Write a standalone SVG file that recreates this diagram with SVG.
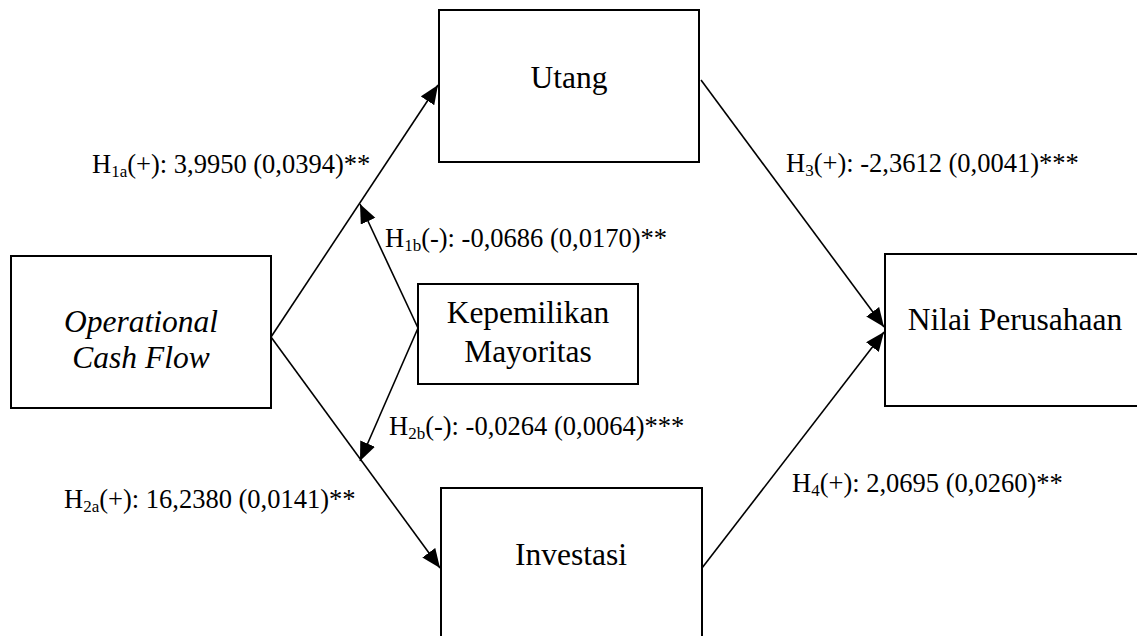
<svg xmlns="http://www.w3.org/2000/svg" width="1137" height="636" viewBox="0 0 1137 636">
<style>
.box{fill:#fff;stroke:#000;stroke-width:2}
.node{font-size:31.5px;fill:#000;text-anchor:middle}
.lbl{font-size:26.5px;fill:#000}
.sub{font-size:17px}
.conn{stroke:#000;stroke-width:1.6;fill:none;marker-end:url(#ah)}
</style>
<defs>
<marker id="ah" markerUnits="userSpaceOnUse" markerWidth="20" markerHeight="18" refX="19" refY="8" orient="auto">
<path d="M0,0 L19,8 L0,16 z" fill="#000"/>
</marker>
</defs>
<rect width="1137" height="636" fill="#fff"/>
<g id="connectors">
<line class="conn" x1="271" y1="337" x2="438" y2="85"/>
<line class="conn" x1="271" y1="337" x2="440" y2="568"/>
<line class="conn" x1="418" y1="328" x2="360" y2="204"/>
<line class="conn" x1="418" y1="328" x2="360" y2="461"/>
<line class="conn" x1="701" y1="80" x2="884" y2="327"/>
<line class="conn" x1="702" y1="568" x2="884" y2="332"/>
</g>
<g font-family="Liberation Serif, Times New Roman, Tinos, DejaVu Serif, serif">
<g id="utang">
<rect class="box" x="439" y="10" width="260" height="152"/>
<text class="node" x="569" y="88">Utang</text>
</g>
<g id="ocf">
<rect class="box" x="11" y="256" width="260" height="152"/>
<text class="node" x="141" y="332" font-style="italic">Operational</text>
<text class="node" x="141" y="368" font-style="italic">Cash Flow</text>
</g>
<g id="kepemilikan">
<rect class="box" x="418" y="284" width="220" height="100"/>
<text class="node" x="528" y="323">Kepemilikan</text>
<text class="node" x="528" y="362">Mayoritas</text>
</g>
<g id="investasi">
<rect class="box" x="441" y="488" width="261" height="160"/>
<text class="node" x="571" y="565">Investasi</text>
</g>
<g id="nilai">
<rect class="box" x="885" y="254" width="270" height="152"/>
<text class="node" x="1015" y="330">Nilai Perusahaan</text>
</g>
<g id="labels">
<text class="lbl" x="92" y="173">H<tspan class="sub" dy="4">1a</tspan><tspan dy="-4">(+): 3,9950 (0,0394)**</tspan></text>
<text class="lbl" x="385" y="247">H<tspan class="sub" dy="4">1b</tspan><tspan dy="-4">(-): -0,0686 (0,0170)**</tspan></text>
<text class="lbl" x="389" y="435">H<tspan class="sub" dy="4">2b</tspan><tspan dy="-4">(-): -0,0264 (0,0064)***</tspan></text>
<text class="lbl" x="64" y="508">H<tspan class="sub" dy="4">2a</tspan><tspan dy="-4">(+): 16,2380 (0,0141)**</tspan></text>
<text class="lbl" x="786" y="172">H<tspan class="sub" dy="4">3</tspan><tspan dy="-4">(+): -2,3612 (0,0041)***</tspan></text>
<text class="lbl" x="792" y="492">H<tspan class="sub" dy="4">4</tspan><tspan dy="-4">(+): 2,0695 (0,0260)**</tspan></text>
</g>
</g>
</svg>
